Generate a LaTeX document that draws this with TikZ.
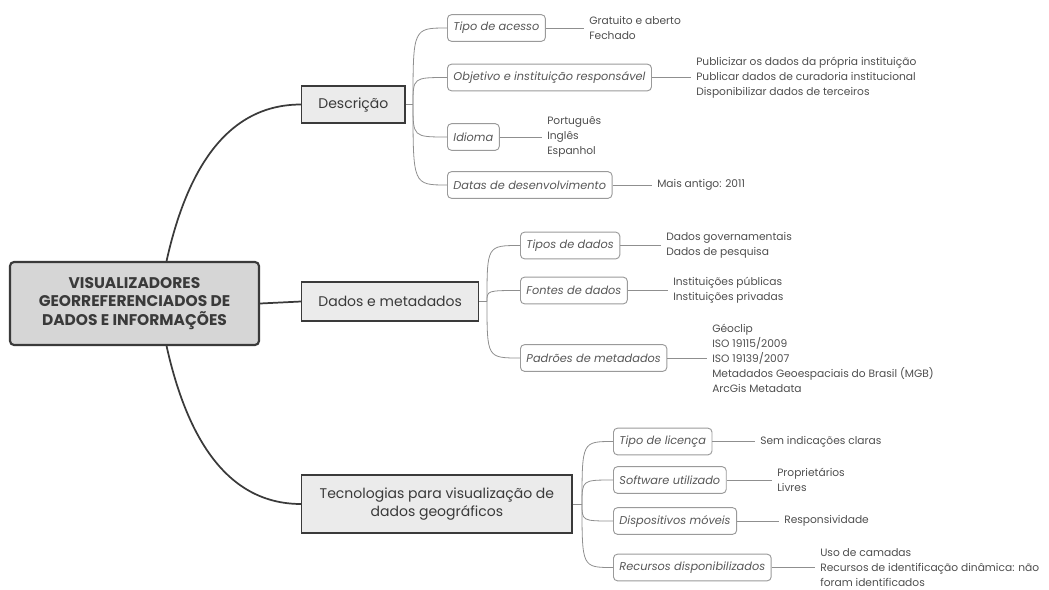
\documentclass[tikz,border=0pt]{standalone}
\usepackage{fontspec}
\setmainfont{Poppins}
\usetikzlibrary{positioning}

\definecolor{rootfill}{HTML}{D6D6D6}
\definecolor{mainfill}{HTML}{EBEBEB}
\definecolor{linegray}{HTML}{8F8F8F}
\definecolor{boxgray}{HTML}{9A9A9A}
\definecolor{inkgray}{HTML}{3A3A3A}

\tikzset{
  rootbox/.style={draw=inkgray, line width=1.6pt, fill=rootfill, rounded corners=3pt,
    align=center, text=inkgray, font=\bfseries\fontsize{11.6}{13.9}\selectfont,
    minimum width=186.75pt, minimum height=62.25pt},
  mainbox/.style={draw=inkgray, line width=1.1pt, fill=mainfill, align=center,
    text=inkgray, font=\fontsize{10.5}{13.5}\selectfont, inner xsep=12.5pt,
    minimum height=28pt, anchor=west},
  subbox/.style={draw=boxgray, line width=0.7pt, rounded corners=3pt, fill=white,
    text=inkgray!85, font=\itshape\fontsize{8.5}{10}\selectfont, inner xsep=4.5pt,
    minimum height=20pt, anchor=west},
  leaf/.style={align=left, anchor=west, inner xsep=3.75pt, inner ysep=0pt, text=inkgray!90,
    font=\fontsize{8}{11.25}\selectfont},
  trunk/.style={draw=inkgray, line width=1.3pt},
  branch/.style={draw=linegray, line width=0.6pt},
}

\begin{document}
\begin{tikzpicture}[x=0.75pt, y=-0.75pt]
\useasboundingbox (0,0) rectangle (1049,589);

% raiz
\node[rootbox] (root) at (134.5,303.5) {VISUALIZADORES\\GEORREFERENCIADOS DE\\DADOS E INFORMAÇÕES};

% ramos principais
\node[mainbox] (desc) at (301,104.5) {Descrição};
\node[mainbox, minimum height=29.25pt] (dados) at (301,301.5) {Dados e metadados};
\node[mainbox, minimum height=43.5pt, inner xsep=13.5pt] (tec) at (301,504) {Tecnologias para visualização de\\dados geográficos};

\draw[trunk] (root.53) .. controls +(20,-90) and +(-75,0) .. (desc.west);
\draw[trunk] (root.east) -- (dados.west);
\draw[trunk] (root.-53) .. controls +(20,90) and +(-75,0) .. (tec.west);

% Descrição
\coordinate (bdesc) at (413,104.5);
\node[subbox] (acesso) at (447,28) {Tipo de acesso};
\node[subbox] (objetivo) at (447,77.5) {Objetivo e instituição responsável};
\node[subbox] (idioma) at (447,137) {Idioma};
\node[subbox] (datas) at (447,185) {Datas de desenvolvimento};

\node[leaf] (acessoL) at (584,28) {Gratuito e aberto\\Fechado};
\node[leaf] (objetivoL) at (691,77.5) {Publicizar os dados da própria instituição\\Publicar dados de curadoria institucional\\Disponibilizar dados de terceiros};
\node[leaf] (idiomaL) at (542,137) {Português\\Inglês\\Espanhol};
\node[leaf] (datasL) at (652,185) {Mais antigo: 2011};

\draw[branch] (desc.east) -- (bdesc);
\foreach \c in {acesso,objetivo,idioma,datas}{
  \draw[branch] (bdesc) .. controls (bdesc |- \c.west) .. (\c.west);
  \draw[branch] (\c.east) -- (\c L.west);
}

% Dados e metadados
\coordinate (bdados) at (487,301.5);
\node[subbox] (tipos) at (520,245.5) {Tipos de dados};
\node[subbox] (fontes) at (520,290.5) {Fontes de dados};
\node[subbox] (padroes) at (520,358) {Padrões de metadados};

\node[leaf] (tiposL) at (661,245.5) {Dados governamentais\\Dados de pesquisa};
\node[leaf] (fontesL) at (668,290.5) {Instituições públicas\\Instituições privadas};
\node[leaf] (padroesL) at (707,358) {Géoclip\\ISO 19115/2009\\ISO 19139/2007\\Metadados Geoespaciais do Brasil (MGB)\\ArcGis Metadata};

\draw[branch] (dados.east) -- (bdados);
\foreach \c in {tipos,fontes,padroes}{
  \draw[branch] (bdados) .. controls (bdados |- \c.west) .. (\c.west);
  \draw[branch] (\c.east) -- (\c L.west);
}

% Tecnologias
\coordinate (btec) at (582,504);
\node[subbox] (licenca) at (613,441.5) {Tipo de licença};
\node[subbox] (software) at (613,480) {Software utilizado};
\node[subbox] (moveis) at (613,521) {Dispositivos móveis};
\node[subbox] (recursos) at (613,567.5) {Recursos disponibilizados};

\node[leaf] (licencaL) at (755,441.5) {Sem indicações claras};
\node[leaf] (softwareL) at (772,480) {Proprietários\\Livres};
\node[leaf] (moveisL) at (779,521) {Responsividade};
\node[leaf] (recursosL) at (815,567.5) {Uso de camadas\\Recursos de identificação dinâmica: não\\foram identificados};

\draw[branch] (tec.east) -- (btec);
\foreach \c in {licenca,software,moveis,recursos}{
  \draw[branch] (btec) .. controls (btec |- \c.west) .. (\c.west);
  \draw[branch] (\c.east) -- (\c L.west);
}
\end{tikzpicture}
\end{document}
